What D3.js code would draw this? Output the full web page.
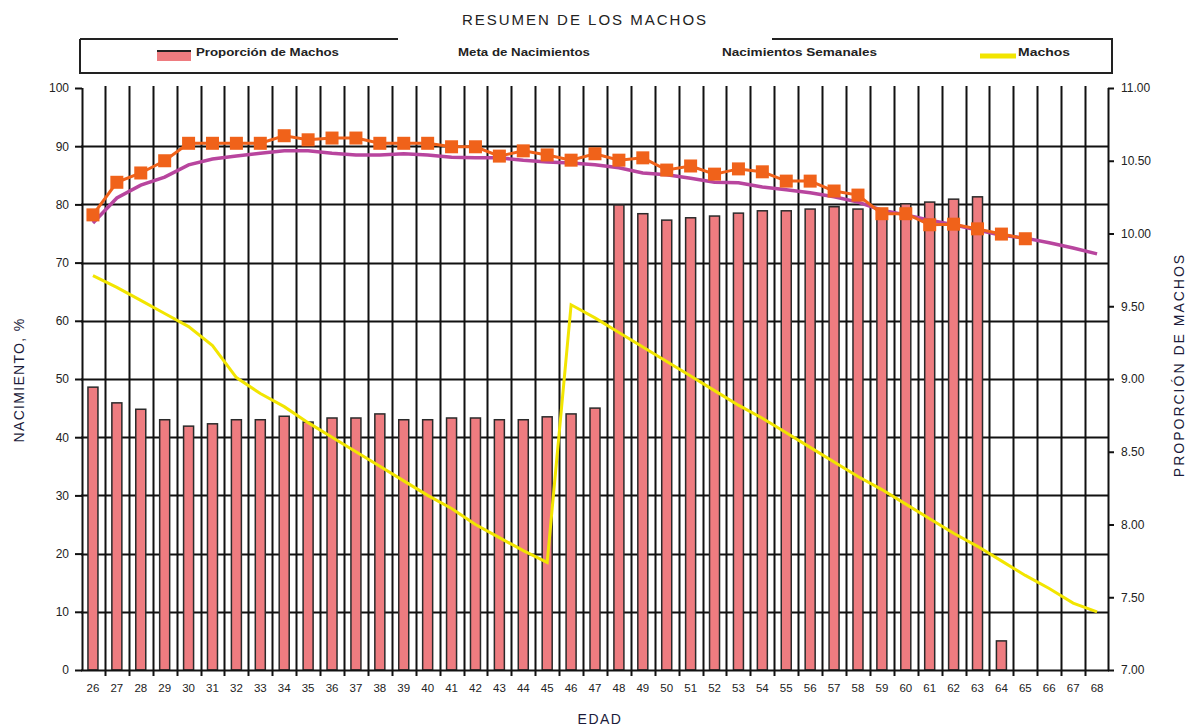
<!DOCTYPE html>
<html>
<head>
<meta charset="utf-8">
<script src="https://cdn.jsdelivr.net/npm/d3@7"></script>
<style>
  html, body { margin: 0; padding: 0; background: #fff; }
  svg { display: block; font-family: "Liberation Sans", Arial, sans-serif; }
</style>
</head>
<body>
<svg id="chart" width="1187" height="728"></svg>
<script>
// ---- data ----
const ages = [26,27,28,29,30,31,32,33,34,35,36,37,38,39,40,41,42,43,44,45,46,47,48,49,50,51,52,53,54,55,56,57,58,59,60,61,62,63,64,65,66,67,68];
const barValues = [48.6,45.9,44.8,43.0,41.9,42.3,43.0,43.0,43.6,42.6,43.3,43.3,44.0,43.0,43.0,43.3,43.3,43.0,43.0,43.5,44.0,45.0,79.9,78.4,77.3,77.7,78.0,78.5,78.9,78.9,79.2,79.6,79.2,78.5,80.1,80.4,80.9,81.3,5.0,null,null,null,null];
const metaValues = [78.2,83.8,85.4,87.5,90.5,90.5,90.5,90.5,91.8,91.1,91.4,91.4,90.5,90.5,90.5,89.9,89.9,88.3,89.2,88.5,87.6,88.7,87.6,88.0,85.9,86.6,85.2,86.1,85.6,84.0,84.0,82.3,81.6,78.4,78.4,76.5,76.6,75.8,74.9,74.1,null,null,null];
const semanalValues = [76.8,81.1,83.3,84.7,86.8,87.8,88.3,88.8,89.2,89.2,88.8,88.5,88.5,88.7,88.5,88.1,88.0,88.0,87.6,87.3,87.1,86.8,86.3,85.4,85.1,84.5,83.8,83.7,83.0,82.5,82.0,81.3,80.4,79.0,78.2,77.3,76.5,75.6,74.7,74.2,73.4,72.5,71.5];
const machosValues = [9.71,9.63,9.54,9.45,9.36,9.23,9.01,8.90,8.81,8.70,8.60,8.50,8.40,8.30,8.20,8.11,8.00,7.91,7.82,7.74,9.51,9.42,9.32,9.22,9.12,9.02,8.92,8.82,8.73,8.63,8.53,8.43,8.33,8.24,8.14,8.04,7.94,7.85,7.75,7.65,7.56,7.46,7.40];
const leftTicks = [0,10,20,30,40,50,60,70,80,90,100];
const rightTicks = [7.0,7.5,8.0,8.5,9.0,9.5,10.0,10.5,11.0];
const legendLabels = ["Proporción de Machos","Meta de Nacimientos","Nacimientos Semanales","Machos"];
const titleText = "RESUMEN DE LOS MACHOS";
const leftTitle = "NACIMIENTO, %";
const rightTitle = "PROPORCIÓN DE MACHOS";
const xTitle = "EDAD";

// ---- layout ----
const svg = d3.select("#chart");
const X0 = 81, X1 = 1109, Y0 = 670, Y1 = 88;
const x = d3.scaleBand().domain(ages).range([X0, X1]).padding(0);
const yL = d3.scaleLinear().domain([0, 100]).range([Y0, Y1]);
const yR = d3.scaleLinear().domain([7, 11]).range([Y0, Y1]);

const colBar = "#ee7c80", colMeta = "#f0621a", colSem = "#b8459e", colMachos = "#f2e500";

// horizontal gridlines
svg.append("g").selectAll("line").data(leftTicks.filter(d => d > 0 && d < 100)).join("line")
  .attr("x1", X0).attr("x2", X1)
  .attr("y1", d => Math.round(yL(d)) + 0.5).attr("y2", d => Math.round(yL(d)) + 0.5)
  .attr("stroke", "#111").attr("stroke-width", 2);

// vertical gridlines at band boundaries
const bounds = ages.slice(1).map(a => x(a));
svg.append("g").selectAll("line").data(bounds).join("line")
  .attr("x1", d => Math.round(d) + 0.5).attr("x2", d => Math.round(d) + 0.5)
  .attr("y1", Y1 - 2).attr("y2", Y0 + 6)
  .attr("stroke", "#111").attr("stroke-width", 2);

// bars
const bw = 10;
svg.append("g").selectAll("rect").data(ages.map((a, i) => ({a, v: barValues[i]})).filter(d => d.v != null)).join("rect")
  .attr("x", d => x(d.a) + x.bandwidth() / 2 - bw / 2)
  .attr("y", d => yL(d.v))
  .attr("width", bw)
  .attr("height", d => Y0 - yL(d.v))
  .attr("fill", colBar)
  .attr("stroke", "#2a2a2a").attr("stroke-width", 1.5);

// axes
const axL = svg.append("g").attr("transform", `translate(${X0 + 1},0)`)
  .call(d3.axisLeft(yL).tickValues(leftTicks).tickSize(7).tickPadding(6).tickFormat(d3.format("d")));
const axR = svg.append("g").attr("transform", `translate(${X1 - 1},0)`)
  .call(d3.axisRight(yR).tickValues(rightTicks).tickSize(6).tickPadding(7).tickFormat(d3.format(".2f")));
const axB = svg.append("g").attr("transform", `translate(0,${Y0})`)
  .call(d3.axisBottom(x).tickSize(0).tickPadding(14));
[axL, axR, axB].forEach(g => {
  g.select(".domain").attr("stroke", "#111").attr("stroke-width", 2);
  g.selectAll(".tick line").attr("stroke", "#111").attr("stroke-width", 2);
  g.selectAll("text").attr("fill", "#222").attr("font-size", 12).attr("font-family", "Liberation Sans, Arial, sans-serif");
});
axB.select(".domain").attr("d", `M${X0},0.5H${X1}`);
axB.selectAll("text").attr("font-size", 11.5);
axL.select(".domain").attr("d", `M0.5,${Y0}V${Y1}`);
axR.select(".domain").attr("d", `M0.5,${Y0}V${Y1}`);

// lines
const cx = a => x(a) + x.bandwidth() / 2;
const lineL = d3.line().defined(d => d.v != null).x(d => cx(d.a)).y(d => yL(d.v));
const lineR = d3.line().defined(d => d.v != null).x(d => cx(d.a)).y(d => yR(d.v));
const semData = ages.map((a, i) => ({a, v: semanalValues[i]}));
const metaData = ages.map((a, i) => ({a, v: metaValues[i]}));
const machData = ages.map((a, i) => ({a, v: machosValues[i]}));

svg.append("path").datum(machData).attr("d", lineR)
  .attr("fill", "none").attr("stroke", colMachos).attr("stroke-width", 3);
svg.append("path").datum(semData).attr("d", lineL)
  .attr("fill", "none").attr("stroke", colSem).attr("stroke-width", 3.5);
svg.append("path").datum(metaData).attr("d", lineL)
  .attr("fill", "none").attr("stroke", colMeta).attr("stroke-width", 3);
svg.append("g").selectAll("rect").data(metaData.filter(d => d.v != null)).join("rect")
  .attr("x", d => cx(d.a) - 6.5).attr("y", d => yL(d.v) - 6.5)
  .attr("width", 13).attr("height", 13).attr("fill", colMeta);

// title
svg.append("text").attr("x", 585).attr("y", 25).attr("text-anchor", "middle")
  .attr("font-size", 15).attr("letter-spacing", 2).attr("fill", "#222").text(titleText);

// legend box
const lg = svg.append("g");
const lb = {x0: 80, x1: 1112, y0: 39, y1: 73};
lg.append("path")
  .attr("d", `M${lb.x0},${lb.y0}H398 M772,${lb.y0}H${lb.x1}V${lb.y1}H${lb.x0}V${lb.y0}`)
  .attr("fill", "none").attr("stroke", "#222").attr("stroke-width", 2);
lg.append("rect").attr("x", 157).attr("y", 51).attr("width", 34).attr("height", 10).attr("fill", colBar);
lg.append("line").attr("x1", 157).attr("x2", 191).attr("y1", 51).attr("y2", 51).attr("stroke", "#222").attr("stroke-width", 2);
lg.append("line").attr("x1", 980).attr("x2", 1016).attr("y1", 56).attr("y2", 56).attr("stroke", colMachos).attr("stroke-width", 5);
const legX = [196, 458, 722, 1018];
const legW = [143, 132, 155, 52];
lg.selectAll("text.leg").data(legendLabels).join("text").attr("class", "leg")
  .attr("x", (d, i) => legX[i]).attr("y", 56)
  .attr("font-size", 11).attr("font-weight", "bold").attr("fill", "#222")
  .attr("textLength", (d, i) => legW[i]).attr("lengthAdjust", "spacingAndGlyphs")
  .text(d => d);

// axis titles
svg.append("text").attr("transform", "translate(24,380) rotate(-90)").attr("text-anchor", "middle")
  .attr("font-size", 14).attr("letter-spacing", 1.3).attr("fill", "#1b1b3a").text(leftTitle);
svg.append("text").attr("transform", "translate(1184,365) rotate(-90)").attr("text-anchor", "middle")
  .attr("font-size", 14).attr("letter-spacing", 2).attr("fill", "#1b1b3a").text(rightTitle);
svg.append("text").attr("x", 600).attr("y", 724).attr("text-anchor", "middle")
  .attr("font-size", 14).attr("letter-spacing", 1.5).attr("fill", "#1b1b3a").text(xTitle);
</script>
</body>
</html>
